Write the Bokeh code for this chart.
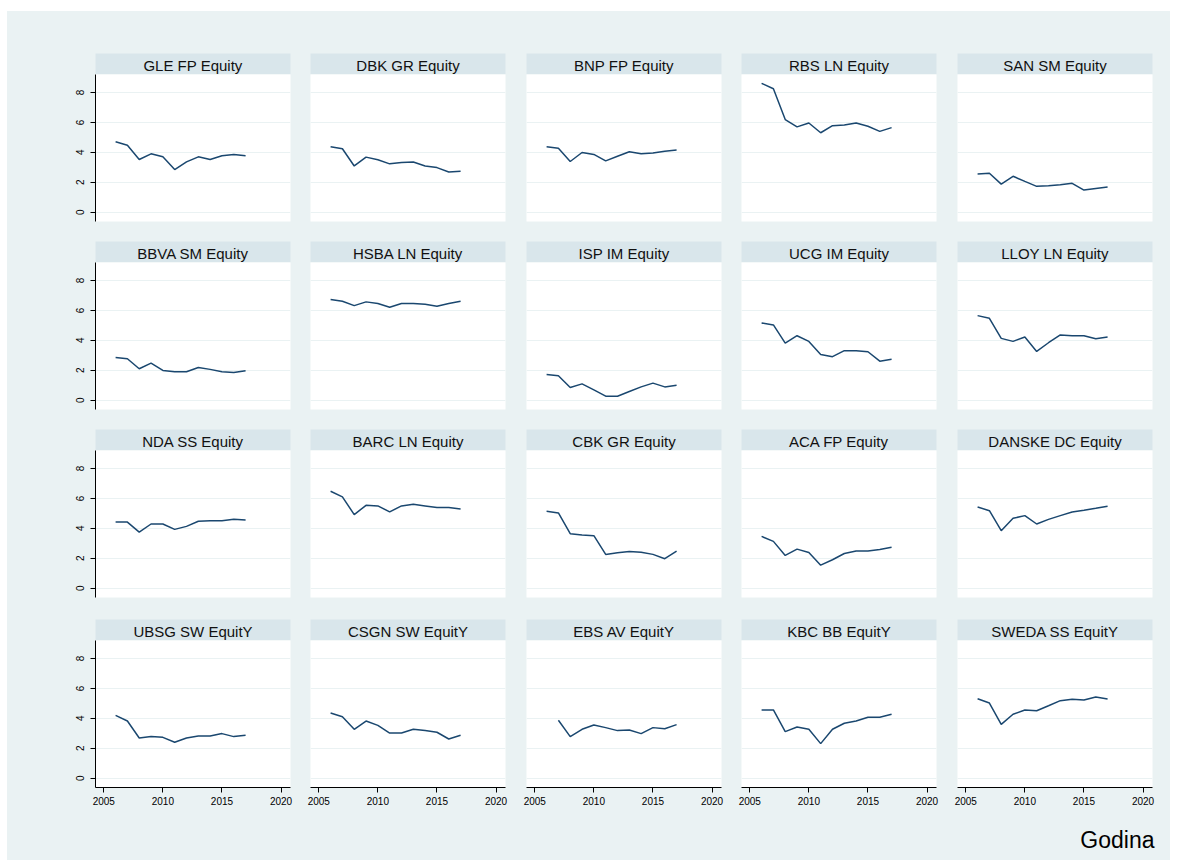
import math
from bokeh.plotting import figure
from bokeh.models import Range1d, FixedTicker, Label, BasicTickFormatter
from bokeh.layouts import column, row
from bokeh.embed import file_html
from bokeh.resources import INLINE

NaN = float("nan")

years = [2006, 2007, 2008, 2009, 2010, 2011, 2012, 2013, 2014, 2015, 2016, 2017]

names = [
    "GLE FP Equity", "DBK GR Equity", "BNP FP Equity", "RBS LN Equity", "SAN SM Equity",
    "BBVA SM Equity", "HSBA LN Equity", "ISP IM Equity", "UCG IM Equity", "LLOY LN Equity",
    "NDA SS Equity", "BARC LN Equity", "CBK GR Equity", "ACA FP Equity", "DANSKE DC Equity",
    "UBSG SW EquitY", "CSGN SW EquitY", "EBS AV EquitY", "KBC BB EquitY", "SWEDA SS EquitY",
]

gle = [4.71, 4.48, 3.52, 3.90, 3.70, 2.85, 3.36, 3.70, 3.52, 3.77, 3.86, 3.77]
dbk = [4.37, 4.24, 3.09, 3.68, 3.50, 3.23, 3.32, 3.36, 3.09, 2.98, 2.69, 2.74]
bnp = [4.37, 4.28, 3.39, 3.99, 3.86, 3.43, 3.74, 4.04, 3.90, 3.95, 4.08, 4.15]
rbs = [8.61, 8.25, 6.19, 5.70, 5.96, 5.31, 5.78, 5.83, 5.96, 5.74, 5.40, 5.65]
san = [2.56, 2.60, 1.88, 2.40, 2.06, 1.73, 1.77, 1.84, 1.93, 1.48, 1.59, 1.68]
bbva = [2.86, 2.77, 2.10, 2.48, 1.99, 1.90, 1.90, 2.19, 2.06, 1.90, 1.85, 1.97]
hsba = [6.73, 6.61, 6.32, 6.57, 6.46, 6.21, 6.46, 6.46, 6.41, 6.28, 6.46, 6.61]
isp = [1.72, 1.63, 0.85, 1.09, 0.69, 0.27, 0.27, 0.58, 0.89, 1.14, 0.89, 1.00]
ucg = [5.16, 5.03, 3.82, 4.31, 3.93, 3.06, 2.91, 3.31, 3.31, 3.24, 2.61, 2.73]
lloy = [5.65, 5.47, 4.13, 3.93, 4.22, 3.26, 3.84, 4.36, 4.31, 4.31, 4.11, 4.22]
nda = [4.42, 4.42, 3.75, 4.29, 4.29, 3.93, 4.13, 4.47, 4.51, 4.51, 4.60, 4.56]
barc = [6.48, 6.10, 4.92, 5.54, 5.50, 5.10, 5.50, 5.61, 5.50, 5.39, 5.39, 5.30]
cbk = [5.14, 5.03, 3.64, 3.55, 3.51, 2.26, 2.37, 2.46, 2.41, 2.26, 1.97, 2.48]
aca = [3.46, 3.13, 2.19, 2.61, 2.39, 1.54, 1.90, 2.32, 2.48, 2.48, 2.59, 2.73]
danske = [5.43, 5.18, 3.84, 4.67, 4.85, 4.29, 4.60, 4.85, 5.09, 5.21, 5.34, 5.48]
ubsg = [4.20, 3.82, 2.69, 2.78, 2.73, 2.40, 2.69, 2.82, 2.82, 2.98, 2.78, 2.87]
csgn = [4.36, 4.11, 3.27, 3.82, 3.53, 3.02, 3.02, 3.27, 3.18, 3.07, 2.62, 2.87]
ebs = [NaN, 3.87, 2.78, 3.27, 3.56, 3.38, 3.18, 3.22, 2.98, 3.38, 3.31, 3.58]
kbc = [4.56, 4.56, 3.11, 3.42, 3.27, 2.31, 3.27, 3.67, 3.82, 4.07, 4.07, 4.27]
sweda = [5.31, 5.02, 3.60, 4.27, 4.56, 4.51, 4.84, 5.18, 5.27, 5.22, 5.42, 5.29]

series = [gle, dbk, bnp, rbs, san, bbva, hsba, isp, ucg, lloy,
          nda, barc, cbk, aca, danske, ubsg, csgn, ebs, kbc, sweda]

y_ticks = [0, 2, 4, 6, 8]
x_ticks = [2005, 2010, 2015, 2020]
x_title = "Godina"

BG = "#EAF2F3"
HEAD = "#D9E6EB"
LINE = "#1A476F"
FONT = "Liberation Sans"

col_w = [293, 215, 216, 215, 224]
col_l = [88, 10, 11, 10, 11]
col_r = [10, 10, 10, 10, 18]
row_top = [42, 0, 0, 0]
row_gap = [20, 20, 22, 24]
NROW, NCOL = 4, 5

children = []

for r in range(NROW):
    heads = []
    plots = []
    for c in range(NCOL):
        i = r * NCOL + c
        htop = row_top[r]
        h = figure(width=col_w[c], height=21 + htop,
                   x_range=Range1d(0, 1), y_range=Range1d(0, 1),
                   min_border_left=col_l[c], min_border_right=col_r[c],
                   min_border_top=htop, min_border_bottom=0,
                   x_axis_location=None, y_axis_location=None,
                   border_fill_color=BG, background_fill_color=HEAD,
                   outline_line_color=None, toolbar_location=None,
                   output_backend="svg")
        h.grid.visible = False
        h.add_layout(Label(x=0.5, y=0.45, text=names[i], text_align="center",
                           text_baseline="middle", text_font=FONT,
                           text_font_size="15px", text_color="#111111"))
        heads.append(h)

        bottom = row_gap[r]
        p = figure(width=col_w[c], height=147 + bottom,
                   x_range=Range1d(2004.3, 2020.8), y_range=Range1d(-0.62, 9.2),
                   min_border_left=col_l[c], min_border_right=col_r[c],
                   min_border_top=0, min_border_bottom=bottom,
                   border_fill_color=BG, background_fill_color="white",
                   outline_line_color=None, toolbar_location=None,
                   output_backend="svg")
        p.xgrid.grid_line_color = None
        p.ygrid.grid_line_color = BG
        p.ygrid.grid_line_width = 1.2
        p.yaxis.ticker = FixedTicker(ticks=y_ticks)
        p.xaxis.ticker = FixedTicker(ticks=x_ticks)
        p.xaxis.formatter = BasicTickFormatter(use_scientific=False)
        for ax in (p.xaxis[0], p.yaxis[0]):
            ax.axis_line_color = "#000000"
            ax.axis_line_width = 1
            ax.major_tick_line_color = "#000000"
            ax.major_tick_out = 5
            ax.major_tick_in = 0
            ax.minor_tick_line_color = None
            ax.major_label_text_font = FONT
            ax.major_label_text_color = "#000000"
        p.yaxis.major_label_orientation = "vertical"
        p.yaxis.major_label_text_font_size = "10px"
        p.yaxis.major_label_standoff = 6
        p.xaxis.major_label_text_font_size = "10px"
        p.xaxis.major_label_standoff = 4
        p.yaxis.visible = (c == 0)
        p.xaxis.visible = (r == NROW - 1)
        p.line(years, series[i], line_color=LINE, line_width=1.5)
        plots.append(p)
    children.append(row(heads, styles={"background-color": BG}))
    children.append(row(plots, styles={"background-color": BG}))

strip = figure(width=1163, height=49, x_range=Range1d(0, 1163), y_range=Range1d(0, 49),
               min_border=0, x_axis_location=None, y_axis_location=None,
               border_fill_color=BG, background_fill_color=BG,
               outline_line_color=None, toolbar_location=None, output_backend="svg")
strip.grid.visible = False
strip.add_layout(Label(x=1147, y=21, text=x_title, text_align="right",
                       text_baseline="middle", text_font=FONT,
                       text_font_size="23px", text_color="#000000"))
children.append(strip)

layout = column(children, margin=(11, 0, 0, 7), styles={"background-color": BG})
open("out.html", "w").write(file_html(layout, INLINE))
